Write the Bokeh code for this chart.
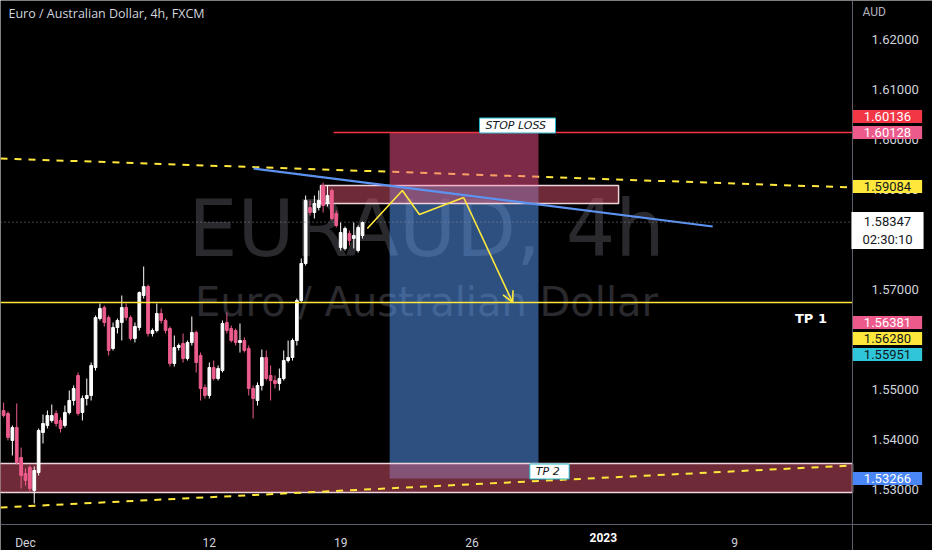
from bokeh.plotting import figure
from bokeh.models import (ColumnDataSource, FixedTicker, NumeralTickFormatter, Label,
                          Arrow, OpenHead, Range1d)
from bokeh.core.properties import value
from bokeh.embed import file_html
from bokeh.resources import INLINE

# ---------------- data (EURAUD, 4h candles) ----------------
first_index = -5   # index 0 = first 4h bar of 1 Dec
opens = [1.5458,1.5452,1.5398,1.5424,1.5364,1.5332,1.5344,1.5298,1.5334,1.5414,
         1.5428,1.5438,1.5452,1.5438,1.5428,1.5454,1.5478,1.5528,1.5454,1.5482,
         1.5488,1.5544,1.5642,1.5664,1.5644,1.5582,1.5624,1.5634,1.5664,1.5644,
         1.5602,1.5624,1.5688,1.5706,1.5612,1.5618,1.5652,1.5638,1.5622,1.5552,
         1.5584,1.5592,1.5562,1.5594,1.5614,1.5568,1.5504,1.5488,1.5544,1.5522,
         1.5538,1.5634,1.5622,1.5618,1.5594,1.5598,1.5582,1.5502,1.5478,1.5508,
         1.5564,1.5528,1.5518,1.5512,1.5522,1.5558,1.5564,1.5598,1.5678,1.5752,
         1.5864,1.5854,1.5864,1.5908,1.5872,1.5898,1.5852,1.5784,1.5782,1.5812,
         1.5802,1.5778,1.5808]
highs = [1.5474,1.5456,1.5428,1.5472,1.5384,1.5342,1.5348,1.5346,1.5422,1.5450,
         1.5458,1.5470,1.5458,1.5444,1.5468,1.5498,1.5508,1.5534,1.5488,1.5522,
         1.5554,1.5648,1.5672,1.5668,1.5648,1.5634,1.5642,1.5688,1.5672,1.5648,
         1.5634,1.5696,1.5746,1.5710,1.5622,1.5672,1.5662,1.5642,1.5626,1.5608,
         1.5592,1.5612,1.5598,1.5646,1.5618,1.5574,1.5510,1.5554,1.5558,1.5548,
         1.5638,1.5654,1.5628,1.5622,1.5632,1.5604,1.5588,1.5508,1.5514,1.5580,
         1.5578,1.5548,1.5528,1.5542,1.5578,1.5598,1.5602,1.5682,1.5762,1.5888,
         1.5878,1.5888,1.5898,1.5914,1.5908,1.5902,1.5858,1.5834,1.5826,1.5818,
         1.5834,1.5828,1.5836]
lows = [1.5444,1.5398,1.5368,1.5350,1.5302,1.5308,1.5294,1.5272,1.5328,1.5392,
        1.5422,1.5434,1.5426,1.5414,1.5424,1.5450,1.5468,1.5448,1.5438,1.5468,
        1.5478,1.5538,1.5638,1.5626,1.5568,1.5578,1.5612,1.5598,1.5638,1.5598,
        1.5594,1.5618,1.5682,1.5606,1.5606,1.5614,1.5632,1.5612,1.5546,1.5546,
        1.5578,1.5554,1.5558,1.5588,1.5534,1.5478,1.5482,1.5482,1.5518,1.5518,
        1.5534,1.5612,1.5594,1.5588,1.5574,1.5574,1.5488,1.5442,1.5468,1.5498,
        1.5518,1.5478,1.5502,1.5498,1.5518,1.5554,1.5558,1.5588,1.5674,1.5748,
        1.5848,1.5842,1.5858,1.5854,1.5866,1.5838,1.5824,1.5778,1.5778,1.5788,
        1.5782,1.5774,1.5802]
closes = [1.5448,1.5404,1.5424,1.5354,1.5328,1.5318,1.5302,1.5338,1.5418,1.5432,
          1.5448,1.5448,1.5432,1.5422,1.5454,1.5478,1.5502,1.5452,1.5482,1.5488,
          1.5548,1.5644,1.5662,1.5634,1.5578,1.5624,1.5638,1.5664,1.5644,1.5602,
          1.5626,1.5694,1.5706,1.5612,1.5618,1.5652,1.5638,1.5618,1.5552,1.5584,
          1.5588,1.5562,1.5594,1.5614,1.5554,1.5502,1.5488,1.5544,1.5522,1.5542,
          1.5632,1.5618,1.5598,1.5594,1.5598,1.5578,1.5502,1.5482,1.5508,1.5564,
          1.5522,1.5518,1.5512,1.5522,1.5558,1.5564,1.5598,1.5678,1.5752,1.5878,
          1.5854,1.5872,1.5878,1.5868,1.5888,1.5842,1.5828,1.5814,1.5822,1.5798,
          1.5808,1.5824,1.5834]

date_ticks = [0, 42, 72, 102, 132, 162]
date_labels = ["Dec", "12", "19", "26", "2023", "9"]
price_ticks = [1.53, 1.54, 1.55, 1.56, 1.57, 1.58, 1.59, 1.60, 1.61, 1.62]

current_price = 1.58347
tp1_level = 1.5674
stop_level = 1.6014
entry_level = 1.5908
target_level = 1.5322
top_channel = [(-5.71, 1.5962), (188.94, 1.5904)]
bottom_channel = [(-5.71, 1.5264), (188.94, 1.5348)]
trend_line = [(52.1, 1.5942), (157.0, 1.5826)]
path_x = [78.1, 86.1, 90.0, 100.1, 111.3]
path_y = [1.5822, 1.5898, 1.5850, 1.5884, 1.5674]
upper_zone = (67.4, 135.5, 1.5908, 1.5872)
lower_zone = (-6.0, 188.94, 1.5352, 1.5294)
position_x = (83.2, 117.2)
stop_line_start = 70.4
tag_texts = ["1.60136", "1.60128", "1.59084", "1.58347\n02:30:10",
             "1.56381", "1.56280", "1.55951", "1.53266"]

# ---------------- layout helpers (page pixel -> data) ----------------
def ix(px):
    return (px - 25.0) / 4.377

def py(pyy):
    return 1.6278 - 0.0002 * pyy

YEL = "#ffe83b"
PINK = "#ec5c8c"
FONT = "DejaVu Sans"
UI_FONT = "Roboto"
AXIS_X = ix(852)      # right price-scale border
AXIS_Y = py(524)      # bottom time-scale border

idx = list(range(first_index, first_index + len(opens)))
colors = ["#ffffff" if c >= o else PINK for o, c in zip(opens, closes)]
src = ColumnDataSource(dict(
    x=idx, o=opens, h=highs, l=lows, c=closes,
    top=[max(o, c) for o, c in zip(opens, closes)],
    bot=[min(o, c) for o, c in zip(opens, closes)],
    color=colors))

p = figure(width=932, height=550,
           x_range=Range1d(ix(0), ix(932)), y_range=Range1d(py(550), py(0)),
           y_axis_location="right", x_axis_location="below",
           output_backend="svg", toolbar_location=None,
           background_fill_color="#000000", border_fill_color="#000000",
           min_border_left=0, min_border_top=0, min_border_right=0, min_border_bottom=0)
p.outline_line_color = None
p.grid.visible = False

# axes (drawn at fixed positions so that the price tags can sit over them)
ya = p.yaxis[0]
ya.fixed_location = AXIS_X
ya.ticker = FixedTicker(ticks=price_ticks)
ya.formatter = NumeralTickFormatter(format="0.00000")
ya.major_tick_line_color = None
ya.minor_tick_line_color = None
ya.axis_line_color = "#5d606b"
ya.major_label_text_color = "#d1d4dc"
ya.major_label_text_font = UI_FONT
ya.major_label_text_font_size = "13px"
ya.major_label_standoff = 13

xa = p.xaxis[0]
xa.fixed_location = AXIS_Y
xa.ticker = FixedTicker(ticks=date_ticks)
xa.major_label_overrides = {t: (lab if lab != "2023" else "") for t, lab in zip(date_ticks, date_labels)}
xa.major_tick_line_color = None
xa.minor_tick_line_color = None
xa.axis_line_color = "#5d606b"
xa.major_label_text_color = "#d1d4dc"
xa.major_label_text_font = UI_FONT
xa.major_label_text_font_size = "12px"
xa.major_label_standoff = 5

# watermark
p.text(x=[ix(426), ix(426)], y=[py(228), py(301)],
       text=["EURAUD, 4h", "Euro / Australian Dollar"],
       text_font=value(FONT), text_font_size=["78px", "40px"],
       text_align="center", text_baseline="middle", text_color="#2a2a2e")

# position tool target (blue)
p.quad(left=[position_x[0]], right=[position_x[1]], top=[entry_level], bottom=[target_level],
       fill_color="#5aa0ff", fill_alpha=0.5, line_color=None)

# zones
for (l, r, t, b) in [upper_zone, lower_zone]:
    p.quad(left=[l], right=[r], top=[t], bottom=[b], fill_color="#dc546e", fill_alpha=0.5,
           line_color="#f0d4dc", line_width=1.5)

# channel dashed lines
for seg in [top_channel, bottom_channel]:
    p.line(x=[seg[0][0], seg[1][0]], y=[seg[0][1], seg[1][1]], line_color=YEL,
           line_width=2, line_dash="7 7")

# position tool stop (red)
p.quad(left=[position_x[0]], right=[position_x[1]], top=[stop_level], bottom=[entry_level],
       fill_color="#f8548f", fill_alpha=0.5, line_color=None)

# candles
p.segment(x0="x", y0="h", x1="x", y1="l", source=src, line_color="color", line_width=1)
p.vbar(x="x", width=0.62, top="top", bottom="bot", source=src, fill_color="color", line_color="color")

# trend line
p.line(x=[trend_line[0][0], trend_line[1][0]], y=[trend_line[0][1], trend_line[1][1]],
       line_color="#5d93f0", line_width=2.2)

# horizontal levels (end at the price scale)
p.segment(x0=[stop_line_start], y0=[stop_level], x1=[AXIS_X], y1=[stop_level],
          line_color="#f23645", line_width=1.3)
p.segment(x0=[ix(0)], y0=[tp1_level], x1=[AXIS_X], y1=[tp1_level], line_color=YEL, line_width=1.5)
p.segment(x0=[ix(0)], y0=[current_price], x1=[AXIS_X], y1=[current_price],
          line_color="#8a8d96", line_width=1, line_dash="1 3")

# zigzag with arrow
p.line(x=path_x[:-1], y=path_y[:-1], line_color=YEL, line_width=1.6)
p.add_layout(Arrow(end=OpenHead(size=11, line_color=YEL, line_width=1.6),
                   x_start=path_x[-2], y_start=path_y[-2], x_end=path_x[-1], y_end=path_y[-1],
                   line_color=YEL, line_width=1.6))

# text boxes on chart
box_style = dict(text_align="center", text_baseline="middle", text_font=FONT, text_font_size="11px",
                 text_font_style="italic", text_color="#131722", background_fill_color="#ffffff",
                 border_line_color="#22b8c8", border_line_width=1,
                 padding=dict(left=6, right=6, top=1, bottom=1))
p.add_layout(Label(x=ix(517), y=py(125), text="STOP  LOSS", **box_style))
p.add_layout(Label(x=ix(549), y=py(471), text="TP  2", **box_style))
p.add_layout(Label(x=ix(815), y=py(318), text="TP   1", text_align="center", text_baseline="middle",
                   text_font=FONT, text_font_size="13px", text_font_style="bold", text_color="#ffffff"))

# title, currency, bold year
p.add_layout(Label(x=ix(8), y=py(12.5), text="Euro / Australian Dollar, 4h, FXCM", text_align="left",
                   text_baseline="middle", text_font="Open Sans", text_font_size="12.5px",
                   text_color="#d1d4dc"))
p.add_layout(Label(x=ix(862), y=py(11), text="AUD", text_align="left", text_baseline="middle",
                   text_font=UI_FONT, text_font_size="12px", text_color="#b2b5be"))
p.add_layout(Label(x=date_ticks[4], y=py(537), text=date_labels[4], text_align="center",
                   text_baseline="middle", text_font=UI_FONT, text_font_size="12px",
                   text_font_style="bold", text_color="#ffffff"))

# price tags on the price scale
tag_rows = [(116, "#f23645", "#ffffff"), (132, "#ec5a8c", "#ffffff"), (186, "#ffe83b", "#131722"),
            (230, "#ffffff", "#131722"), (322, "#ec5a8c", "#ffffff"), (338, "#ffe83b", "#131722"),
            (354, "#2ec6d8", "#131722"), (478, "#4a86f5", "#ffffff")]
for txt, (yy, bg, fg) in zip(tag_texts, tag_rows):
    p.add_layout(Label(x=ix(887), y=py(yy), text=txt, text_align="center", text_baseline="middle",
                       text_font=UI_FONT, text_font_size="13px", text_color=fg,
                       background_fill_color=bg, padding=dict(left=11, right=11, top=2, bottom=2)))

open("out.html", "w").write(file_html(p, INLINE))
